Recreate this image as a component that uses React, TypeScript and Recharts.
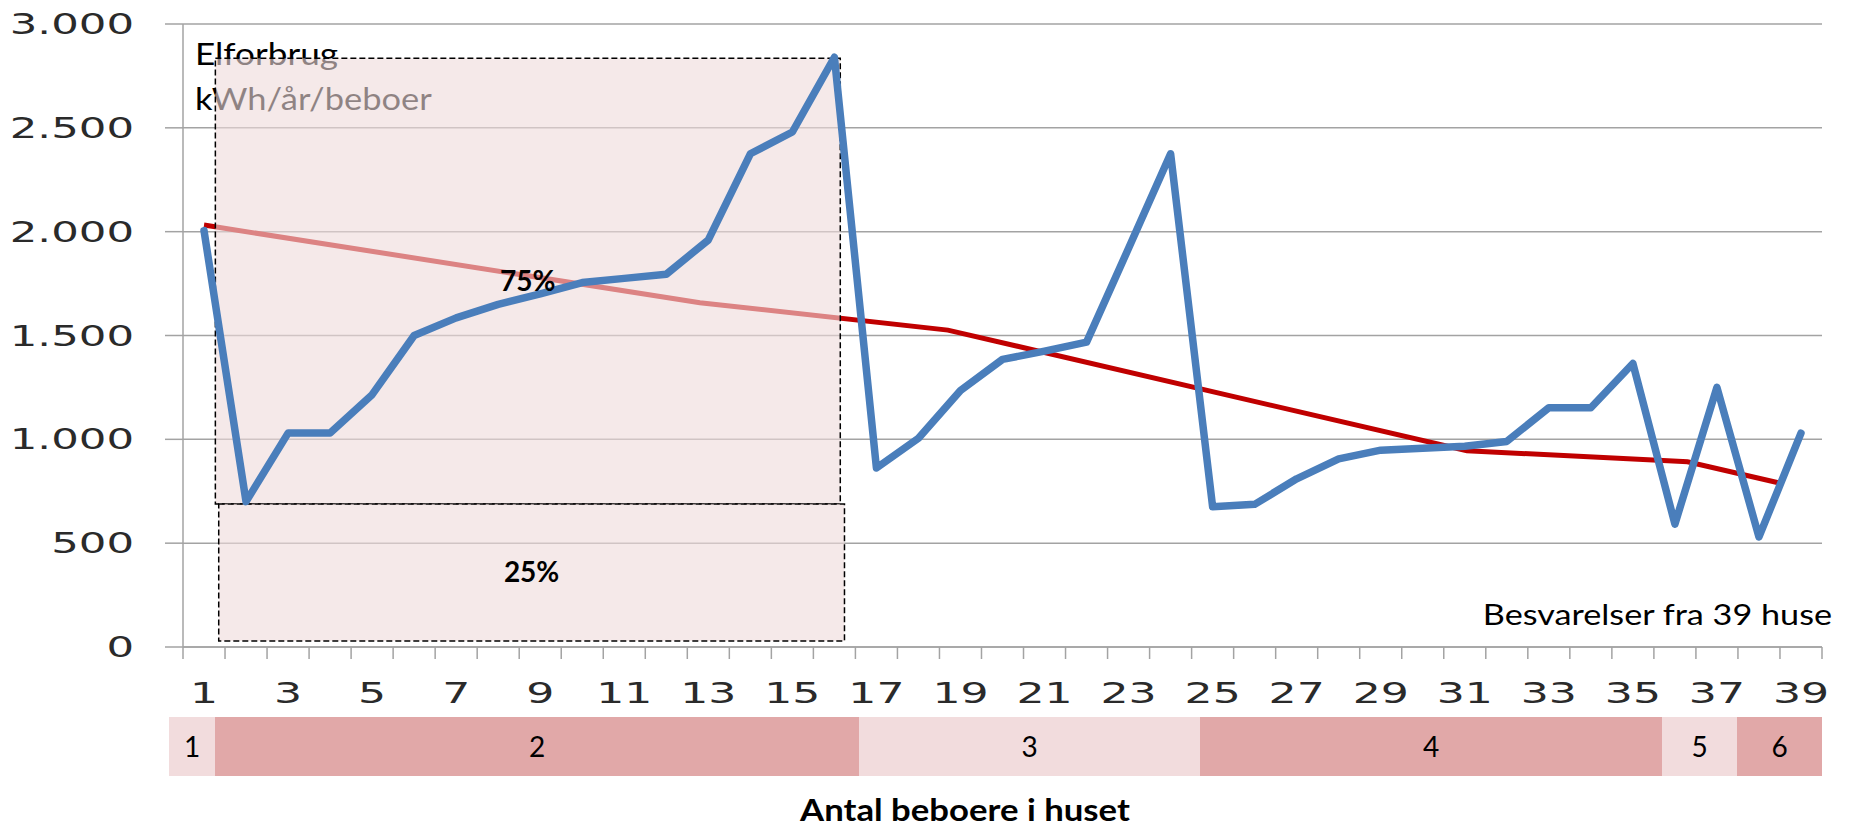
import React from "react";
import { LineChart, Line, XAxis, YAxis, CartesianGrid, ReferenceArea } from "recharts";

// houses, sorted by number of residents (1..39)
const houses = [
  1, 2, 3, 4, 5, 6, 7, 8, 9, 10, 11, 12, 13, 14, 15, 16, 17, 18, 19, 20,
  21, 22, 23, 24, 25, 26, 27, 28, 29, 30, 31, 32, 33, 34, 35, 36, 37, 38, 39,
];

// kWh/år/beboer per house
const usage = [
  2005, 700, 1030, 1030, 1215, 1500, 1585, 1650, 1700, 1755, 1775, 1795, 1960,
  2375, 2480, 2840, 862, 1005, 1235, 1385, 1425, 1468, 1920, 2375, 675, 687,
  810, 906, 948, 957, 967, 990, 1152, 1152, 1365, 592, 1250, 530, 1030,
];

// trend line (red), positions in house units
const trendPos = [1, 12.8, 18.7, 31.05, 36.3, 38.46];
const trendUsage = [2032, 1658, 1526, 945, 892, 791];

const yTicks = [0, 500, 1000, 1500, 2000, 2500, 3000];
const xTickLabels = [1, 3, 5, 7, 9, 11, 13, 15, 17, 19, 21, 23, 25, 27, 29, 31, 33, 35, 37, 39];

// quartile boxes (house range, usage range)
const upperBoxHouses = [1.27, 16.14];
const upperBoxUsage = [689, 2835];
const lowerBoxHouses = [1.35, 16.24];
const lowerBoxUsage = [29, 689];

// residents per house groups, shown in the table under the axis
const groupLabels = ["1", "2", "3", "4", "5", "6"];

const usageData = houses.map((h, i) => ({ house: h, usage: usage[i] }));
const trendData = trendPos.map((p, i) => ({ house: p, trend: trendUsage[i] }));
const xTicks = [...houses.map((h) => h - 0.5), 39.5, ...xTickLabels].sort((a, b) => a - b);

const GRID = "#A3A3A3";
const BLUE = "#4A7EBB";
const RED = "#C00000";

// table cell edges (px) and shades for the groups row
const bandEdges = [169, 215, 859, 1200, 1662, 1737, 1822];
const bandFill = ["#F2DCDD", "#E1A8A8", "#F2DCDD", "#E1A8A8", "#F2DCDD", "#E1A8A8"];

function fmt(v: number) {
  if (v < 1000) return String(v);
  return `${Math.floor(v / 1000)}.${String(v % 1000).padStart(3, "0")}`;
}

function HouseTick(props: any) {
  const { x, y, payload } = props;
  const v = payload.value as number;
  if (!Number.isInteger(v)) {
    return <line x1={x} x2={x} y1={y} y2={y + 12} stroke={GRID} strokeWidth={1.5} />;
  }
  return (
    <g transform={`translate(${x},${y + 56}) scale(1.55,1)`}>
      <text textAnchor="middle" fontFamily="DejaVu Sans" fontSize={28.5} fill="#2a2a2a">
        {v}
      </text>
    </g>
  );
}

function UsageTick(props: any) {
  const { y, payload } = props;
  return (
    <g transform={`translate(134,${y + 10}) scale(1.55,1)`}>
      <text textAnchor="end" fontFamily="DejaVu Sans" fontSize={28} fill="#2a2a2a">
        {fmt(payload.value)}
      </text>
    </g>
  );
}

const boxLabel = (value: string) => ({
  value,
  position: "center" as const,
  fill: "#000",
  fontSize: 28,
  fontWeight: 700,
  fontFamily: "Lato",
});

export default function App() {
  return (
    <div style={{ position: "absolute", left: 0, top: 0, width: 1849, height: 826, background: "#fff" }}>
      <svg width={1849} height={826} style={{ position: "absolute", left: 0, top: 0 }}>
        <g fontFamily="Lato" fill="#000">
          <text transform="translate(195,65) scale(1.17,1)" fontSize={30}>Elforbrug</text>
          <text transform="translate(195,110) scale(1.15,1)" fontSize={30}>kWh/år/beboer</text>
          <text transform="translate(1832,625) scale(1.2,1)" fontSize={28.5} textAnchor="end">
            Besvarelser fra 39 huse
          </text>
          {groupLabels.map((g, i) => (
            <g key={g}>
              <rect
                x={bandEdges[i]}
                y={717}
                width={bandEdges[i + 1] - bandEdges[i]}
                height={59}
                fill={bandFill[i]}
              />
              <text x={(bandEdges[i] + bandEdges[i + 1]) / 2} y={757} fontSize={28} textAnchor="middle">
                {g}
              </text>
            </g>
          ))}
          <text transform="translate(965,821) scale(1.12,1)" fontSize={31} fontWeight={700} textAnchor="middle">
            Antal beboere i huset
          </text>
        </g>
      </svg>
      <div style={{ position: "absolute", left: 0, top: 0 }}>
        <LineChart width={1849} height={826} margin={{ top: 24, right: 27, bottom: 119, left: 0 }}>
          <CartesianGrid vertical={false} stroke={GRID} strokeWidth={1.5} />
          <XAxis
            dataKey="house"
            type="number"
            domain={[0.5, 39.5]}
            ticks={xTicks}
            interval={0}
            height={60}
            tickSize={0}
            tickMargin={0}
            tickLine={false}
            axisLine={{ stroke: GRID, strokeWidth: 1.5 }}
            tick={<HouseTick />}
            allowDataOverflow
          />
          <YAxis
            type="number"
            domain={[0, 3000]}
            ticks={yTicks}
            width={183}
            tickSize={18}
            tickMargin={0}
            tickLine={{ stroke: GRID, strokeWidth: 1.5 }}
            axisLine={{ stroke: GRID, strokeWidth: 1.5 }}
            tick={<UsageTick />}
          />
          <Line
            data={trendData}
            dataKey="trend"
            stroke={RED}
            strokeWidth={5}
            dot={false}
            activeDot={false}
            isAnimationActive={false}
            zIndex={300}
          />
          <ReferenceArea
            x1={upperBoxHouses[0]}
            x2={upperBoxHouses[1]}
            y1={upperBoxUsage[0]}
            y2={upperBoxUsage[1]}
            fill="#EEDADA"
            fillOpacity={0.6}
            stroke="#000"
            strokeWidth={1.5}
            strokeDasharray="6 3"
            label={boxLabel("75%")}
            zIndex={350}
          />
          <ReferenceArea
            x1={lowerBoxHouses[0]}
            x2={lowerBoxHouses[1]}
            y1={lowerBoxUsage[0]}
            y2={lowerBoxUsage[1]}
            fill="#EEDADA"
            fillOpacity={0.6}
            stroke="#000"
            strokeWidth={1.5}
            strokeDasharray="6 3"
            label={boxLabel("25%")}
            zIndex={350}
          />
          <Line
            data={usageData}
            dataKey="usage"
            stroke={BLUE}
            strokeWidth={7.5}
            strokeLinejoin="round"
            strokeLinecap="round"
            dot={false}
            activeDot={false}
            isAnimationActive={false}
            zIndex={400}
          />
        </LineChart>
      </div>
    </div>
  );
}
